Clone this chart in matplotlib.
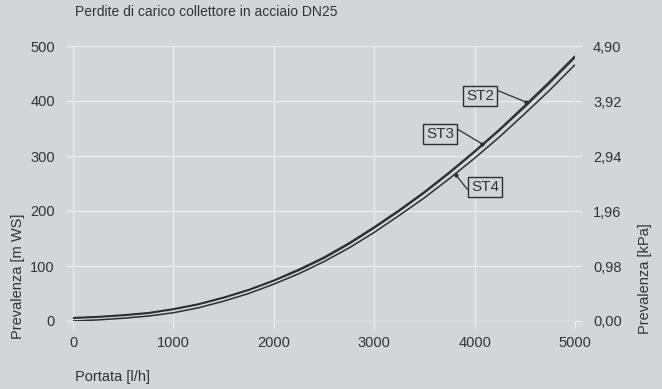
import matplotlib
matplotlib.use("Agg")
import matplotlib.pyplot as plt
from matplotlib.ticker import FuncFormatter

plt.rcParams['font.family'] = ['Liberation Sans', 'DejaVu Sans']

flow = [0, 250, 500, 750, 1000, 1250, 1500, 1750, 2000, 2250, 2500,
        2750, 3000, 3250, 3500, 3750, 4000, 4250, 4500, 4750, 5000]
st2 = [6, 8, 11, 15, 22, 31, 43, 57, 74, 94, 116,
       142, 171, 202, 235, 271, 309, 349, 392, 436, 482]
st3 = [5, 7, 10, 14, 21, 30, 42, 56, 73, 92, 114,
       140, 169, 200, 233, 269, 307, 347, 389, 433, 479]
st4 = [0, 2, 5, 9, 15, 24, 36, 50, 67, 86, 108,
       133, 161, 192, 224, 259, 296, 335, 377, 420, 466]

xticks = [0, 1000, 2000, 3000, 4000, 5000]
yticks = [0, 100, 200, 300, 400, 500]
kpa_ticks = [0.0, 0.98, 1.96, 2.94, 3.92, 4.90]

title = "Perdite di carico collettore in acciaio DN25"
xlabel = "Portata [l/h]"
ylabel = "Prevalenza [m WS]"
ylabel2 = "Prevalenza [kPa]"

bg = "#d4d5d6"
grid_c = "#eaeaea"
txt_c = "#333333"
line_c = "#2e2e2e"

fig = plt.figure(figsize=(6.62, 3.89), dpi=100, facecolor=bg)
ax = fig.add_axes([73/662, 1-321/389, 502/662, 275/389])
ax.set_facecolor(bg)

for s in (st4, st3, st2):
    ax.plot(flow, s, color=line_c, lw=1.1, solid_capstyle='butt')

ax.set_xlim(0, 5000)
ax.set_ylim(0, 500)
ax.set_xticks(xticks)
ax.set_yticks(yticks)
ax.grid(True, color=grid_c, lw=1)
ax.set_axisbelow(True)
for sp in ax.spines.values():
    sp.set_visible(False)
ax.tick_params(axis='both', colors=grid_c, labelcolor=txt_c, labelsize=10.5, length=5, width=1)
ax.tick_params(axis='x', pad=6)
ax.tick_params(axis='y', pad=8)

ax2 = ax.twinx()
ax2.set_ylim(0, 4.90)
ax2.set_yticks(kpa_ticks)
ax2.yaxis.set_major_formatter(FuncFormatter(lambda v, p: f"{v:.2f}".replace('.', ',')))
for sp in ax2.spines.values():
    sp.set_visible(False)
ax2.tick_params(axis='y', colors=grid_c, labelcolor=txt_c, labelsize=10.5, length=5, width=1, pad=8)

bbox = dict(boxstyle='square,pad=0.2', fc=bg, ec=line_c, lw=1)
arrow = dict(arrowstyle='-', color=line_c, lw=0.9, shrinkA=0, shrinkB=0)
ax.annotate("ST2", xy=(4512, 398), xytext=(4054, 409), ha='center', va='center',
            fontsize=11, color=txt_c, bbox=bbox, arrowprops=dict(arrow, relpos=(1, 1)))
ax.annotate("ST3", xy=(4074, 322), xytext=(3655, 340), ha='center', va='center',
            fontsize=11, color=txt_c, bbox=bbox, arrowprops=dict(arrow, relpos=(1, 1)))
ax.annotate("ST4", xy=(3815, 265), xytext=(4104, 244), ha='center', va='center',
            fontsize=11, color=txt_c, bbox=bbox, arrowprops=dict(arrow, relpos=(0, 0)))
for (x, y) in [(4512, 398), (4074, 322), (3815, 265)]:
    ax.plot([x], [y], 'o', ms=2, color=line_c)

fig.text(75/662, 1-12/389, title, ha='left', va='center', fontsize=10, color=txt_c)
fig.text(75/662, 1-377/389, xlabel, ha='left', va='center', fontsize=10.5, color=txt_c)
fig.text(18/662, 1-339/389, ylabel, ha='center', va='bottom', rotation=90, fontsize=10.5, color=txt_c)
fig.text(645/662, 1-334/389, ylabel2, ha='center', va='bottom', rotation=90, fontsize=10.5, color=txt_c)

fig.savefig("out.png", dpi=100, facecolor=bg)
